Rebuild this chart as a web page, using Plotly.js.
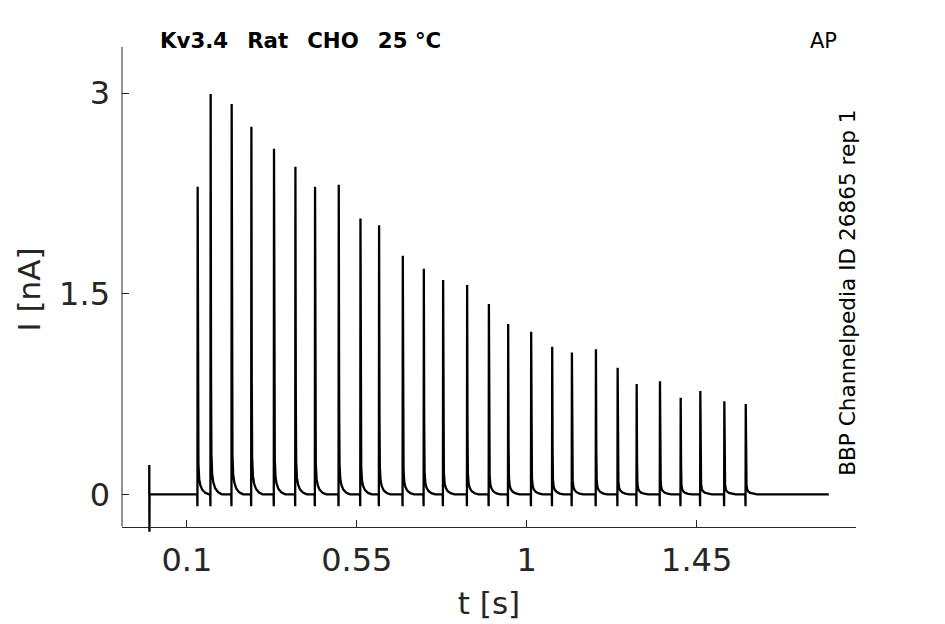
<!DOCTYPE html>
<html>
<head>
<meta charset="utf-8">
<script src="https://cdn.plot.ly/plotly-3.0.1.min.js"></script>
<style>html,body{margin:0;padding:0;background:#fff;}#plot{width:945px;height:624px;}</style>
</head>
<body>
<div id="plot"></div>
<script>
// ---- data ----
const spikeTimes = [0.1284, 0.1628, 0.2185, 0.2707, 0.3306, 0.3873, 0.4393, 0.5021, 0.5596, 0.6089,
  0.6717, 0.7274, 0.7785, 0.8421, 0.8997, 0.9508, 1.0117, 1.0674, 1.1196, 1.1832,
  1.2407, 1.2911, 1.3528, 1.4077, 1.4597, 1.5233, 1.5800];
const spikePeaks = [2.301, 2.995, 2.920, 2.750, 2.585, 2.451, 2.301, 2.316, 2.064, 2.012,
  1.785, 1.688, 1.603, 1.566, 1.424, 1.274, 1.216, 1.104, 1.060, 1.085,
  0.947, 0.825, 0.845, 0.723, 0.773, 0.696, 0.676];
const artifactTimes = [0, 0.0003, 0.0006, 0.0010];
const artifactValues = [0, 0.22, -0.28, 0];
const preDt = [-0.0012, -0.0006];
const preValues = [0, -0.09];
const tailDt = [0, 0.001, 0.002, 0.004, 0.007, 0.012, 0.02, 0.03];
const tailFrac = [1, 0.3, 0.1, 0.05, 0.03, 0.015, 0.005, 0];
const traceEnd = 1.8;
const xTicks = [0.1, 0.55, 1, 1.45];
const xTickText = ['0.1', '0.55', '1', '1.45'];
const yTicks = [0, 1.5, 3];
const yTickText = ['0', '1.5', '3'];
const titleWords = ['Kv3.4', 'Rat', 'CHO', '25 °C'];

// ---- build the current trace ----
const t = [], I = [];
artifactTimes.forEach((v, i) => { t.push(v); I.push(artifactValues[i]); });
spikeTimes.forEach((ts, k) => {
  preDt.forEach((d, i) => { t.push(ts + d); I.push(preValues[i]); });
  tailDt.forEach((d, i) => { t.push(ts + d); I.push(tailFrac[i] * spikePeaks[k]); });
});
t.push(traceEnd); I.push(0);

const axisColor = '#262626';
const font = 'DejaVu Sans, Liberation Sans, sans-serif';
const xPos = 0.0113;
const gap = '\u00a0\u00a0\u2009';

const data = [{
  x: t, y: I, type: 'scatter', mode: 'lines',
  line: {color: '#000', width: 2.3}, hoverinfo: 'skip'
}];

const layout = {
  width: 945, height: 624,
  margin: {l: 122, r: 89, t: 47, b: 92},
  paper_bgcolor: '#fff', plot_bgcolor: '#fff',
  showlegend: false,
  font: {family: font, color: axisColor},
  xaxis: {
    range: [-0.072, 1.872], tickvals: xTicks, ticktext: xTickText,
    ticks: 'inside', ticklen: 7, tickwidth: 1, tickcolor: axisColor,
    showline: true, linecolor: axisColor, linewidth: 1,
    showgrid: false, zeroline: false,
    anchor: 'free', position: xPos,
    ticklabelstandoff: 5,
    tickfont: {size: 32, family: font, color: axisColor},
    title: {text: 't [s]', font: {size: 31, family: font, color: axisColor}, standoff: 14},
    automargin: false
  },
  yaxis: {
    range: [-0.282, 3.346], tickvals: yTicks, ticktext: yTickText,
    ticks: 'inside', ticklen: 7, tickwidth: 1, tickcolor: axisColor,
    showline: false, showgrid: false, zeroline: false,
    ticklabelstandoff: 11,
    tickfont: {size: 32, family: font, color: axisColor},
    title: {text: 'I [nA]', font: {size: 31, family: font, color: axisColor}, standoff: 9},
    automargin: false
  },
  shapes: [{
    type: 'line', xref: 'paper', yref: 'paper', x0: 0, x1: 0, y0: xPos, y1: 1,
    line: {color: axisColor, width: 1}
  }],
  annotations: [
    {text: '<b>' + titleWords.join(gap) + '</b>', xref: 'paper', yref: 'paper',
     x: 0.0495, y: 1.0144, xanchor: 'left', yanchor: 'middle', showarrow: false,
     font: {size: 21.3, family: font, color: '#000'}},
    {text: 'AP', xref: 'paper', yref: 'paper',
     x: 0.9345, y: 1.013, xanchor: 'left', yanchor: 'middle', showarrow: false,
     font: {size: 21, family: font, color: '#000'}},
    {text: 'BBP Channelpedia ID 26865 rep 1', xref: 'paper', yref: 'paper',
     x: 0.989, y: 0.493, xanchor: 'center', yanchor: 'middle', textangle: -90, showarrow: false,
     font: {size: 21.6, family: font, color: '#000'}}
  ]
};

Plotly.newPlot('plot', data, layout, {displayModeBar: false, staticPlot: true});
</script>
</body>
</html>
